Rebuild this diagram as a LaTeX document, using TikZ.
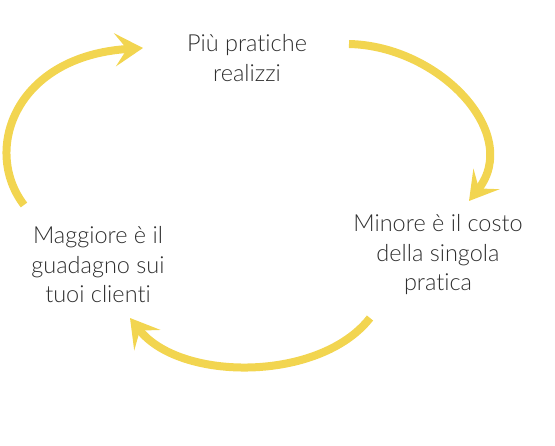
\documentclass[tikz,border=0pt]{standalone}
\usepackage{fontspec}
\setmainfont{Lato Light}[Ligatures=NoCommon]
\usetikzlibrary{positioning, arrows.meta}
\usepackage{xcolor}
\definecolor{cyyellow}{HTML}{F2D550}
\definecolor{cytext}{HTML}{2E2E2E}

\tikzset{
  cyclearrow/.style={line width=8pt, color=cyyellow,
    -{Stealth[length=28pt, width=33pt, inset=12pt]}},
  steptext/.style={align=center, text=cytext,
    font=\fontsize{23.5}{29.5}\selectfont}
}

\begin{document}
\begin{tikzpicture}[x=1pt, y=-1pt]
        \useasboundingbox (0,0) rectangle (555,446);
        \node[steptext] (pratiche) at (247,58) {Più pratiche\\realizzi};
        \node[steptext] (costo) at (438,255) {Minore è il costo\\della singola\\pratica};
        \node[steptext] (guadagno) at (98,265) {Maggiore è il\\guadagno sui\\tuoi clienti};
        \coordinate (a1) at (24,205);
        \coordinate (b1) at (143,48);
        \coordinate (a2) at (349,44);
        \coordinate (b2) at (469,201);
        \coordinate (a3) at (370,318);
        \coordinate (b3) at (130,318);
        \draw[cyclearrow] (a1) .. controls (-18,150) and (15,56) .. (b1);
        \draw[cyclearrow] (a2) .. controls (440,46) and (522,134) .. (b2);
        \draw[cyclearrow] (a3) .. controls (320,382) and (180,382) .. (b3);
      \end{tikzpicture}
\end{document}
